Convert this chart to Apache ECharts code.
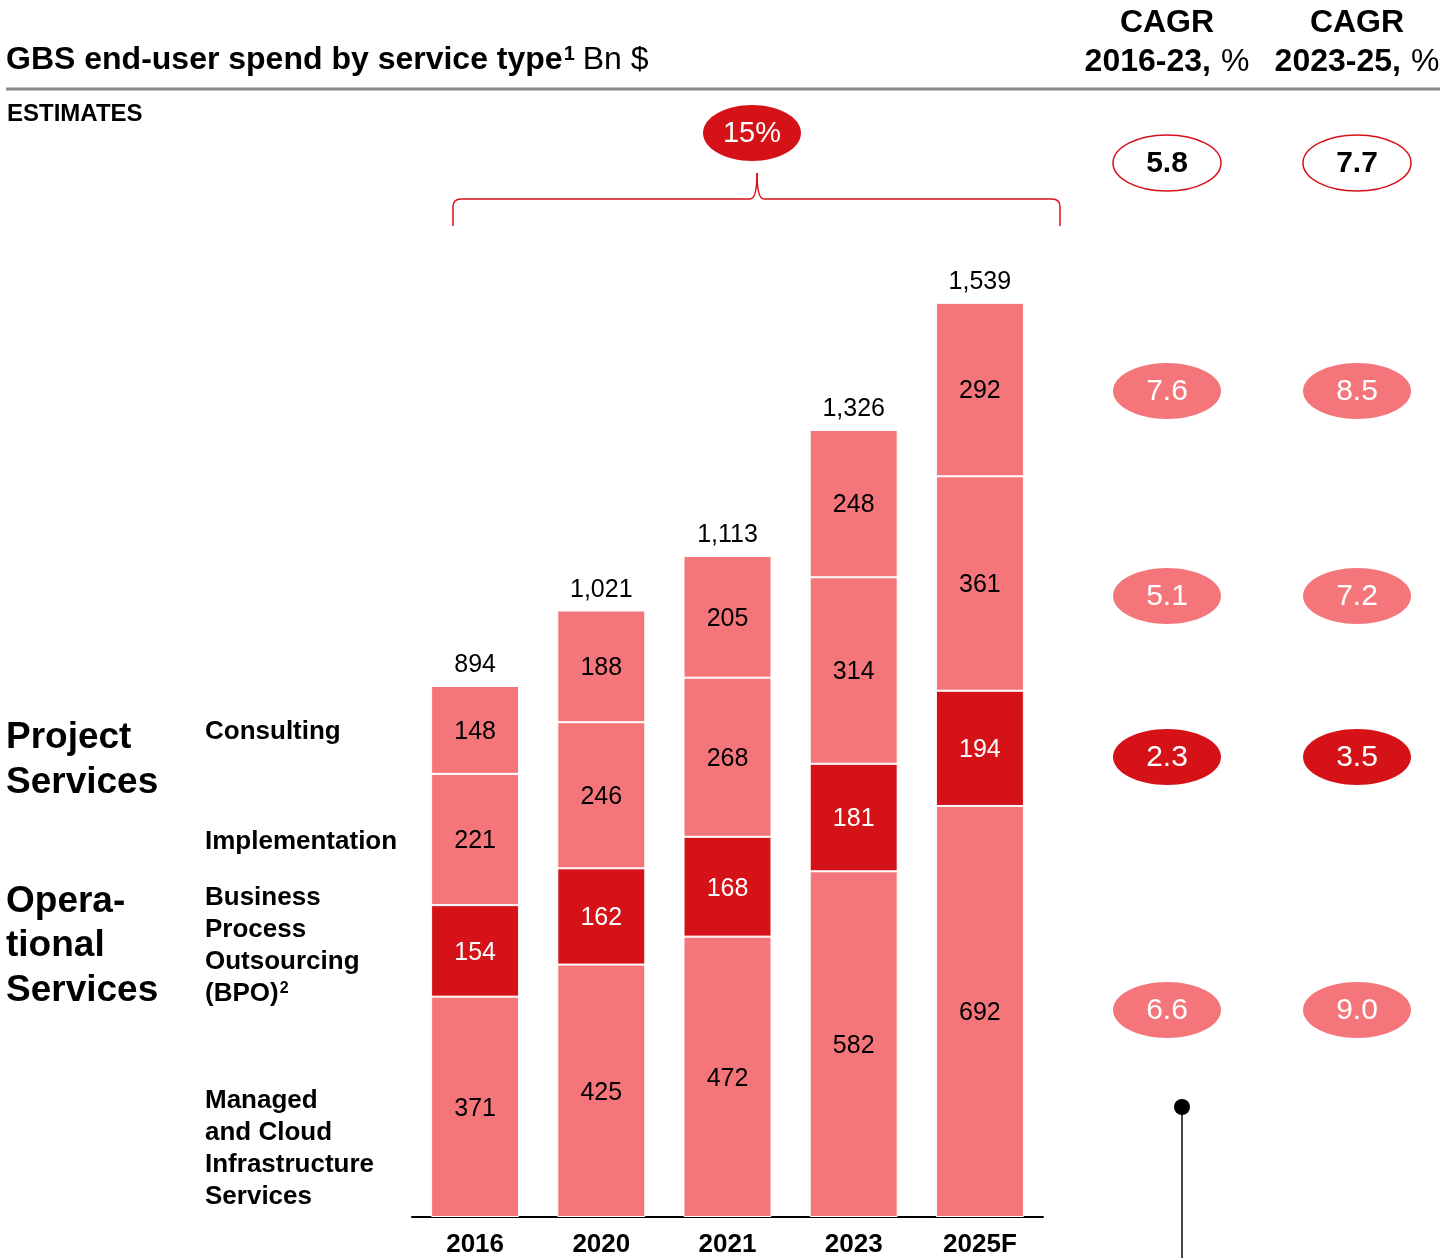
<!DOCTYPE html>
<html><head><meta charset="utf-8">
<script src="https://cdn.jsdelivr.net/npm/echarts@6/dist/echarts.min.js"></script>
<style>html,body{margin:0;padding:0;background:#fff}#c{width:1456px;height:1258px}</style>
</head><body><div id="c"></div>
<script>
const categories = ['2016','2020','2021','2023','2025F'];
const managed = [371,425,472,582,692];
const bpo = [154,162,168,181,194];
const implementation = [221,246,268,314,361];
const consulting = [148,188,205,248,292];
const totals = [894,1021,1113,1326,1539];
const cagr1623 = ['5.8','7.6','5.1','2.3','6.6'];
const cagr2325 = ['7.7','8.5','7.2','3.5','9.0'];
const overallGrowth = '15%';

const LIGHT = '#F4767A', DARK = '#D51218';
const FF = '"Liberation Sans", Arial, sans-serif';

function seg(name, data, color, txt) {
  return {
    name, type: 'bar', stack: 's', data, barWidth: 88,
    itemStyle: { color, borderColor: '#fff', borderWidth: 1 },
    label: { show: true, position: 'inside', color: txt, fontSize: 25, fontFamily: FF, offset: [0, 2] },
    emphasis: { disabled: true }, animation: false
  };
}

const g = [];
function txt(x, y, text, font, opts) {
  g.push({ type: 'text', x, y, style: Object.assign({ text, font, fill: '#000', textAlign: 'left', textVerticalAlign: 'middle' }, opts || {}) });
}
function ln(x1, y1, x2, y2, stroke, w) {
  g.push({ type: 'line', shape: { x1, y1, x2, y2 }, style: { stroke, lineWidth: w } });
}
function qc(x1, y1, cpx1, cpy1, x2, y2) {
  g.push({ type: 'bezierCurve', shape: { x1, y1, x2, y2, cpx1, cpy1 }, style: { stroke: DARK, lineWidth: 1.5, fill: null } });
}
// title
g.push({ type: 'text', x: 6, y: 60, style: { text: '{b|GBS end-user spend by service type}{s|1}{n|Bn $}', textVerticalAlign: 'middle',
  rich: { b: { font: 'bold 32px ' + FF, fill: '#000' }, s: { font: 'bold 20px ' + FF, fill: '#000', verticalAlign: 'top', padding: [0, 8, 10, 1] }, n: { font: '32px ' + FF, fill: '#000' } } } });
ln(6, 89, 1440, 89, '#888', 3);
txt(7, 114, 'ESTIMATES', 'bold 24px ' + FF);
// CAGR headers
[[1167, '2016-23'], [1357, '2023-25']].forEach(([x, p]) => {
  txt(x, 23, 'CAGR', 'bold 32px ' + FF, { textAlign: 'center' });
  g.push({ type: 'text', x, y: 62, style: { text: '{b|' + p + ',}{n|%}', textAlign: 'center', textVerticalAlign: 'middle',
    rich: { b: { font: 'bold 32px ' + FF, fill: '#000', padding: [0, 10, 0, 0] }, n: { font: '32px ' + FF, fill: '#000' } } } });
});
// CAGR ellipses
const rowsY = [163, 391, 596, 757, 1010];
const rowStyle = ['outline', 'light', 'light', 'dark', 'light'];
[[1167, cagr1623], [1357, cagr2325]].forEach(([x, vals]) => {
  vals.forEach((v, i) => {
    const st = rowStyle[i];
    g.push({ type: 'ellipse', shape: { cx: x, cy: rowsY[i], rx: 54, ry: 28 },
      style: st === 'outline' ? { fill: '#fff', stroke: DARK, lineWidth: 1.5 } : { fill: st === 'dark' ? DARK : LIGHT } });
    txt(x, rowsY[i] + 1, v, (st === 'outline' ? 'bold ' : '') + '30px ' + FF, { textAlign: 'center', fill: st === 'outline' ? '#000' : '#fff' });
  });
});
// 15% bubble and bracket
g.push({ type: 'ellipse', shape: { cx: 752, cy: 133, rx: 49, ry: 28 }, style: { fill: DARK } });
txt(752, 134, overallGrowth, '29px ' + FF, { textAlign: 'center', fill: '#fff' });
ln(453, 226, 453, 207, DARK, 1.5);
qc(453, 207, 453, 199, 461, 199);
ln(461, 199, 750, 199, DARK, 1.5);
qc(750, 199, 757, 199, 757, 173);
qc(757, 173, 757, 199, 764, 199);
ln(764, 199, 1052, 199, DARK, 1.5);
qc(1052, 199, 1060, 199, 1060, 207);
ln(1060, 207, 1060, 226, DARK, 1.5);
// left labels
const BIG = 'bold 37px ' + FF, SUB = 'bold 26px ' + FF;
txt(6, 738, 'Project', BIG);
txt(6, 783, 'Services', BIG);
txt(6, 902, 'Opera-', BIG);
txt(6, 946, 'tional', BIG);
txt(6, 991, 'Services', BIG);
txt(205, 732, 'Consulting', SUB);
txt(205, 842, 'Implementation', SUB);
['Business', 'Process', 'Outsourcing'].forEach((t, i) => txt(205, 898 + 32 * i, t, SUB));
g.push({ type: 'text', x: 205, y: 994, style: { text: '{b|(BPO)}{s|2}', textVerticalAlign: 'middle',
  rich: { b: { font: SUB, fill: '#000' }, s: { font: 'bold 16px ' + FF, fill: '#000', verticalAlign: 'top', padding: [0, 0, 8, 1] } } } });
['Managed', 'and Cloud', 'Infrastructure', 'Services'].forEach((t, i) => txt(205, 1101 + 32 * i, t, SUB));
// pin
ln(1182, 1107, 1182, 1258, '#444', 2);
g.push({ type: 'circle', shape: { cx: 1182, cy: 1107, r: 8 }, style: { fill: '#000' } });

const chart = echarts.init(document.getElementById('c'), null, { renderer: 'canvas' });
chart.setOption({
  animation: false,
  grid: { left: 412, width: 631, top: 29, bottom: 40, containLabel: false },
  xAxis: { type: 'category', data: categories,
    axisLine: { lineStyle: { color: '#000', width: 2 } }, axisTick: { show: false },
    axisLabel: { color: '#000', fontSize: 26, fontWeight: 'bold', fontFamily: FF, margin: 15 } },
  yAxis: { type: 'value', min: 0, max: 2000, show: false, splitLine: { show: false } },
  series: [
    seg('Managed and Cloud Infrastructure Services', managed, LIGHT, '#000'),
    seg('BPO', bpo, DARK, '#fff'),
    seg('Implementation', implementation, LIGHT, '#000'),
    seg('Consulting', consulting, LIGHT, '#000'),
    { name: 'Total', type: 'bar', stack: 's', data: totals.map(() => 0), barWidth: 88,
      itemStyle: { color: 'transparent' },
      label: { show: true, position: 'top', distance: 8, color: '#000', fontSize: 25, fontFamily: FF,
        formatter: p => totals[p.dataIndex].toLocaleString('en-US') } }
  ],
  graphic: g
});
</script></body></html>
